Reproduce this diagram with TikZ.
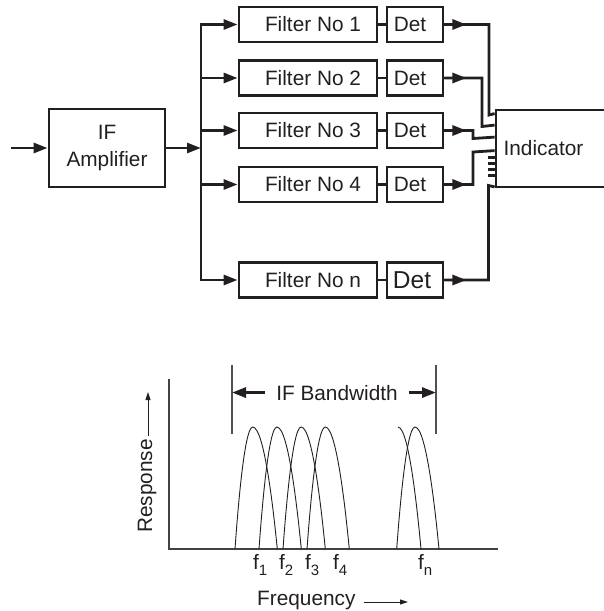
\documentclass[tikz,border=0pt]{standalone}
\usepackage{fontspec}
\setmainfont{Liberation Sans}
\usetikzlibrary{arrows.meta,calc}
\definecolor{ink}{HTML}{231F20}
\definecolor{gline}{HTML}{505050}
\begin{document}
\begin{tikzpicture}[x=1pt,y=-1pt,
  box/.style={draw=ink, line width=2.8pt, rectangle, inner sep=0pt, text=ink,
    font=\fontsize{20.8}{24}\selectfont},
  fbox/.style={box, minimum width=138pt, minimum height=35pt},
  dbox/.style={box, minimum width=56pt, minimum height=35pt},
  wire/.style={draw=ink, line width=2.8pt},
  arr/.style={wire, -{Triangle[length=14pt,width=10pt]}},
  axis/.style={draw=ink!85, line width=1.1pt},
  curve/.style={draw=ink, line width=0.9pt},
  gl/.style={draw=gline, line width=1.4pt},
  lab/.style={text=ink, inner sep=0pt, font=\fontsize{20.8}{24}\selectfont},
  tarr/.style={draw=ink, line width=1pt, -{Triangle[length=8pt,width=5pt]}}]
\useasboundingbox (0,0) rectangle (603,611);

% ---------- block diagram ----------
\node[box, minimum width=116pt, minimum height=78pt, align=center,
  font=\fontsize{20.8}{27}\selectfont] (amp) at (107,148) {IF\\Amplifier};
\coordinate (in) at (11,148);
\draw[arr] (in) -- (amp.west);
\coordinate (bm) at (201,148);
\draw[arr] (amp.east) -- (bm);

\node[fbox] (f1) at (308,24.5) {\hspace*{10pt}Filter No 1};
\node[fbox] (f2) at (308,78) {\hspace*{10pt}Filter No 2};
\node[fbox] (f3) at (308,130.5) {\hspace*{10pt}Filter No 3};
\node[fbox] (f4) at (308,184.5) {\hspace*{10pt}Filter No 4};
\node[fbox] (f5) at (308,280) {\hspace*{10pt}Filter No n};

\node[dbox] (d1) at (415,24.5) {Det\hspace*{10pt}};
\node[dbox] (d2) at (415,78) {Det\hspace*{10pt}};
\node[dbox] (d3) at (415,130.5) {Det\hspace*{10pt}};
\node[dbox] (d4) at (415,184.5) {Det\hspace*{10pt}};
\node[dbox, font=\fontsize{24.5}{28}\selectfont] (d5) at (415,280) {Det\hspace*{6pt}};

% bus
\coordinate (bt) at (201,24.5);
\coordinate (bb) at (201,280);
\draw[wire] ($(bt)+(12,0)$) -- (bt) -- (bb) -- ($(bb)+(12,0)$);
\foreach \n in {1,...,5} {
  \draw[arr] (bt |- f\n.west) -- (f\n.west);
  \draw[wire] (f\n.east) -- (d\n.west);
  \draw[arr] (d\n.east) -- ++(22,0);
}

% indicator
\node[box, minimum width=114pt, minimum height=77pt] (ind) at (553,148.5) {Indicator\hspace*{19pt}};
\path (ind.north west) ++(0,5) coordinate (i1);
\path (ind.north west) ++(0,16.5) coordinate (i2);
\path (ind.north west) ++(0,28.5) coordinate (i3);
\path (ind.north west) ++(0,42) coordinate (i4);
\path (ind.south west) ++(0,-1.5) coordinate (i5);

\draw[wire] (d1.east) -| (489,115) -- (i1);
\draw[wire] (d2.east) -| (482,126.5) -- (i2);
\draw[wire] (d3.east) -| (473,138.5) -- (i3);
\draw[wire] (d4.east) -| (473,152) -- (i4);
\draw[wire] (d5.east) -| (488.5,185.5) -- (i5);
\foreach \t in {49,55,61,66.5}
  \draw[wire] (ind.north west) ++(0,\t) -- ++(-7,0);

% ---------- response chart ----------
\coordinate (o) at (169,549);
\draw[axis] (169,379) -- (o) -- (498,549);

\foreach \i in {0,...,3}
  \draw[curve] ({235+24*\i},549) parabola bend ({252.7+24.2*\i},427) ({277.3+24*\i},549);
\draw[curve] (398,427) parabola (421,549);
\draw[curve] (396.7,549) parabola bend (415,427) (439,549);

\coordinate (bwl) at (232,365);
\coordinate (bwr) at (436,365);
\draw[gl] (bwl) -- (232,434);
\draw[gl] (bwr) -- (436,434);
\node[lab, anchor=base, inner xsep=11pt] (bw) at (337,400) {IF Bandwidth};
\draw[arr, line width=3pt] (bw.west) -- (bw.west -| bwl);
\draw[arr, line width=3pt] (bw.east) -- (bw.east -| bwr);

\newcommand{\fsub}[1]{f\raisebox{-6pt}{\fontsize{15}{15}\selectfont #1}}
\node[lab, anchor=base west] (fl1) at (253,569) {\fsub{1}};
\node[lab, anchor=base west] (fl2) at (279,569) {\fsub{2}};
\node[lab, anchor=base west] (fl3) at (305,569) {\fsub{3}};
\node[lab, anchor=base west] (fl4) at (333,569) {\fsub{4}};
\node[lab, anchor=base west] (fln) at (418,569) {\fsub{n}};

\node[lab, anchor=base west] (fq) at (257,605) {Frequency};
\coordinate (fqa) at (408,602);
\draw[tarr] (fqa -| fq.east) ++(8,0) -- (fqa);

\node[lab, anchor=base west, rotate=90] (rs) at (152,533) {Response};
\coordinate (ra) at (148,392);
\draw[tarr] (ra |- rs.east) ++(0,-3) -- (ra);
\end{tikzpicture}
\end{document}
